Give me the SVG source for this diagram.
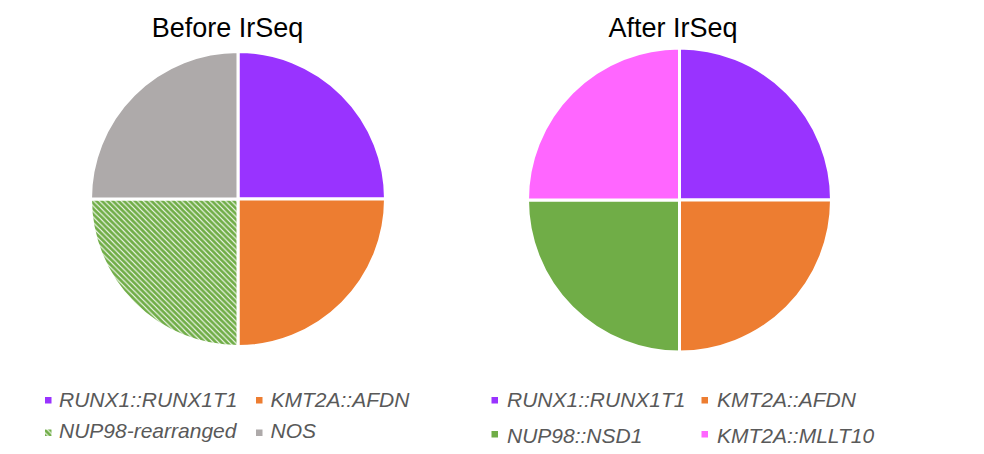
<svg xmlns="http://www.w3.org/2000/svg" width="984" height="454" viewBox="0 0 984 454">
  <defs>
    <pattern id="hatch" patternUnits="userSpaceOnUse" width="5.5" height="5.5">
      <rect width="5.5" height="5.5" fill="#ffffff"/>
      <path d="M-1.4,-1.4 L6.9,6.9 M-1.4,4.1 L1.4,6.9 M4.1,-1.4 L6.9,1.4" stroke="#70AD47" stroke-width="2.8"/>
    </pattern>
    <style>
      .slice { stroke: #ffffff; stroke-width: 3; }
      .title { font-family: "Liberation Sans", Arial, sans-serif; font-size: 27px; fill: #000000; }
      .legend { font-family: "Liberation Sans", Arial, sans-serif; font-size: 21px; font-style: italic; fill: #595959; }
    </style>
  </defs>
  <rect width="984" height="454" fill="#ffffff"/>

  <!-- Left pie: before -->
  <g id="pie-before">
    <text class="title" x="227.5" y="36.5" text-anchor="middle">Before IrSeq</text>
    <path class="slice" fill="#9933FF" d="M238,199 L238,51.5 A147.5,147.5 0 0 1 385.5,199 Z"/>
    <path class="slice" fill="#ED7D31" d="M238,199 L385.5,199 A147.5,147.5 0 0 1 238,346.5 Z"/>
    <path class="slice" fill="url(#hatch)" d="M238,199 L238,346.5 A147.5,147.5 0 0 1 90.5,199 Z"/>
    <path class="slice" fill="#AEAAAA" d="M238,199 L90.5,199 A147.5,147.5 0 0 1 238,51.5 Z"/>
  </g>

  <!-- Right pie: after -->
  <g id="pie-after">
    <text class="title" x="673" y="36.5" text-anchor="middle">After IrSeq</text>
    <path class="slice" fill="#9933FF" d="M679.5,200 L679.5,48 A152,152 0 0 1 831.5,200 Z"/>
    <path class="slice" fill="#ED7D31" d="M679.5,200 L831.5,200 A152,152 0 0 1 679.5,352 Z"/>
    <path class="slice" fill="#70AD47" d="M679.5,200 L679.5,352 A152,152 0 0 1 527.5,200 Z"/>
    <path class="slice" fill="#FF66FF" d="M679.5,200 L527.5,200 A152,152 0 0 1 679.5,48 Z"/>
  </g>

  <!-- Legend for the left pie -->
  <g id="legend-before">
    <rect x="45" y="397" width="6.5" height="6.5" fill="#9933FF"/>
    <text class="legend" x="59" y="406.5">RUNX1::RUNX1T1</text>
    <rect x="256" y="397" width="6.5" height="6.5" fill="#ED7D31"/>
    <text class="legend" x="270.5" y="406.5">KMT2A::AFDN</text>
    <rect x="45" y="429.5" width="6.5" height="6.5" fill="url(#hatch)"/>
    <text class="legend" x="59" y="437.5">NUP98-rearranged</text>
    <rect x="256" y="429.5" width="6.5" height="6.5" fill="#AEAAAA"/>
    <text class="legend" x="270.5" y="437.5">NOS</text>
  </g>

  <!-- Legend for the right pie -->
  <g id="legend-after">
    <rect x="491.5" y="397" width="6.5" height="6.5" fill="#9933FF"/>
    <text class="legend" x="507" y="406.5">RUNX1::RUNX1T1</text>
    <rect x="701.5" y="397" width="6.5" height="6.5" fill="#ED7D31"/>
    <text class="legend" x="717" y="406.5">KMT2A::AFDN</text>
    <rect x="491.5" y="431" width="6.5" height="6.5" fill="#70AD47"/>
    <text class="legend" x="507" y="442.5">NUP98::NSD1</text>
    <rect x="701.5" y="431" width="6.5" height="6.5" fill="#FF66FF"/>
    <text class="legend" x="717" y="442.5">KMT2A::MLLT10</text>
  </g>

  <g id="connectors"/>
</svg>
